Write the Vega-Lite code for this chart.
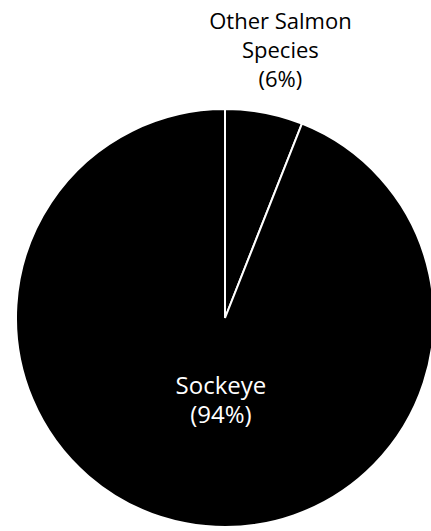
{
  "$schema": "https://vega.github.io/schema/vega-lite/v6.json",
  "width": 412,
  "height": 426,
  "padding": {"left": 19, "right": 0, "top": 105, "bottom": 0},
  "autosize": {"type": "none"},
  "background": "#ffffff",
  "config": {"view": {"stroke": null}},
  "data": {
    "values": [
      {"species": "Other Salmon Species", "name": "Other Salmon\nSpecies", "share": 6, "order": 1},
      {"species": "Sockeye", "name": "Sockeye", "share": 94, "order": 2}
    ]
  },
  "transform": [
    {"stack": "share", "groupby": [], "sort": [{"field": "order", "order": "ascending"}], "as": ["start", "end"]},
    {"calculate": "(datum.start + datum.end) / 2", "as": "mid"},
    {"calculate": "datum.name + '\\n(' + datum.share + '%)'", "as": "label"}
  ],
  "layer": [
    {
      "mark": {"type": "arc", "outerRadius": 209, "fill": "#000000", "stroke": "#ffffff", "strokeWidth": 2},
      "encoding": {
        "theta": {"field": "start", "type": "quantitative", "scale": {"domain": [0, 100]}},
        "theta2": {"field": "end"}
      }
    },
    {
      "transform": [{"filter": "datum.species !== 'Sockeye'"}],
      "mark": {
        "type": "text", "radius": 301, "dx": -1, "font": "Open Sans", "fontSize": 22,
        "fill": "#000000", "lineBreak": "\n", "lineHeight": 29, "align": "center", "baseline": "middle"
      },
      "encoding": {
        "theta": {"field": "mid", "type": "quantitative"},
        "text": {"field": "label"}
      }
    },
    {
      "transform": [{"filter": "datum.species === 'Sockeye'"}],
      "mark": {
        "type": "text", "radius": 70, "dx": 9, "font": "Open Sans", "fontSize": 24,
        "fill": "#ffffff", "lineBreak": "\n", "lineHeight": 29, "align": "center", "baseline": "middle"
      },
      "encoding": {
        "theta": {"field": "mid", "type": "quantitative"},
        "text": {"field": "label"}
      }
    }
  ]
}
